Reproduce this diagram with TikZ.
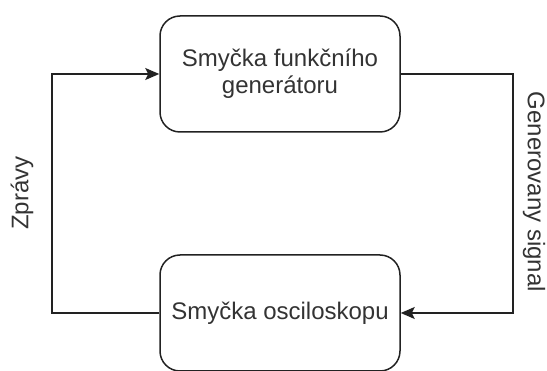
\documentclass[tikz,border=0pt]{standalone}
\usepackage{fontspec}
\setmainfont{Liberation Sans}
\usetikzlibrary{arrows.meta}
\definecolor{txt}{HTML}{333333}
\definecolor{ln}{HTML}{222222}

\begin{document}
\begin{tikzpicture}[x=1pt,y=-1pt,
    loopbox/.style={draw=ln,line width=1.5pt,rounded corners=20pt,minimum width=240pt,minimum height=116pt,align=center,text=txt,font=\fontsize{24}{27}\selectfont},
    lbl/.style={text=txt,inner sep=0pt,font=\fontsize{24}{27}\selectfont},
    conn/.style={draw=ln,line width=1.5pt},
    tip/.style={-{Stealth[length=14pt,width=12pt,inset=3pt]}}]
    \useasboundingbox (0,0) rectangle (547,371);
    \node (gen) at (280,74) [loopbox] {Smyčka funkčního\\generátoru};
    \node (osc) at (280,313) [loopbox] {Smyčka osciloskopu};
    \coordinate (l1) at (52,74);
    \coordinate (l2) at (52,313);
    \coordinate (r1) at (513,74);
    \coordinate (r2) at (513,313);
    \node (zpr) at (22,193) [lbl,rotate=90] {Zprávy};
    \node (sig) at (534,192) [lbl,rotate=-90] {Generovany signal};
    
    \draw[conn,tip] (osc.west) -- (l2) -- (l1) -- (gen.west);
    \draw[conn,tip] (gen.east) -- (r1) -- (r2) -- (osc.east);
\end{tikzpicture}
\end{document}
